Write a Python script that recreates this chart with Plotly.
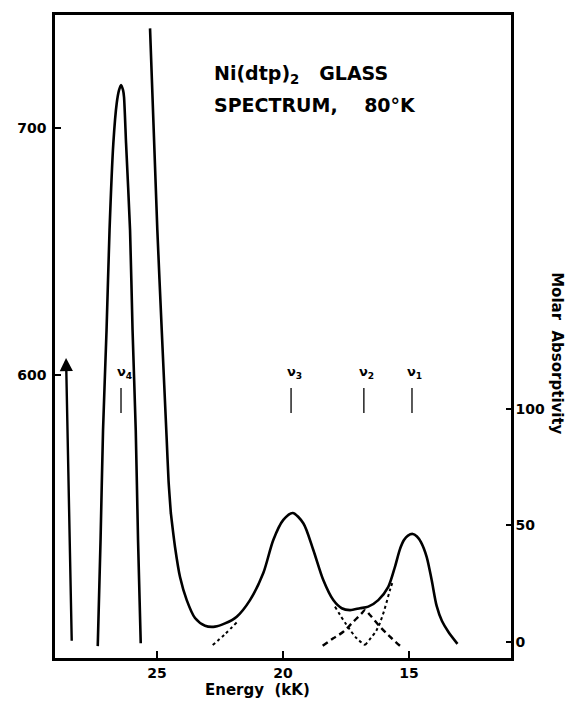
import plotly.graph_objects as go

# ---------------- data (Energy in kK) ----------------
x_range = [29.05, 10.95]
x_ticks = [25, 20, 15]
left_ticks = [600, 700]
right_ticks = [0, 50, 100]

# off-scale band (nu4), read on left axis
band4_kk = [27.353, 27.242, 27.143, 27.004, 26.885, 26.734, 26.599, 26.508, 26.429,
            26.349, 26.310, 26.230, 26.071, 25.972, 25.845, 25.754, 25.647]
band4_val = [490.4, 533.3, 577.8, 618.2, 658.6, 693.8, 710.0, 715.2, 717.3,
             715.2, 712.4, 693.8, 658.6, 618.2, 577.8, 533.3, 491.6]

# steep charge-transfer edge, read on left axis
edge_kk = [25.278, 24.988, 24.813, 24.615, 24.544, 24.452]
edge_val = [740.2, 658.6, 618.2, 573.7, 557.5, 544.2]

# main spectrum, molar absorptivity (right axis)
spec_kk = [24.452, 24.286, 24.087, 23.821, 23.492, 23.095, 22.698,
           22.302, 21.837, 21.310, 20.782, 20.385, 19.988, 19.615, 19.194, 18.797,
           18.401, 18.004, 17.671, 17.341, 16.944, 16.615, 16.218, 15.821, 15.556,
           15.357, 15.198, 15.040, 14.853, 14.683, 14.524, 14.298, 14.099, 13.901,
           13.690, 13.433, 13.075]
spec_val = [55.3, 40.7, 27.8, 17.9, 10.2, 6.9, 6.5,
            7.9, 10.8, 17.9, 29.5, 43.7, 52.3, 55.3, 50.9, 39.4,
            26.5, 17.9, 14.4, 13.6, 14.4, 15.1, 17.9, 23.6, 32.2,
            39.8, 43.7, 45.6, 46.3, 45.2, 42.8, 36.5, 26.5, 15.4,
            8.9, 4.2, -0.9]

# resolved components
tail3a_kk = [22.790, 22.302, 21.813]
tail3a_val = [-1.4, 3.3, 8.6]
tail3b_kk = [17.937, 17.472, 17.075, 16.746]
tail3b_val = [15.1, 7.2, 1.5, -1.4]
tail1_kk = [16.746, 16.282, 16.020, 15.754, 15.623]
tail1_val = [-1.4, 5.1, 12.2, 22.2, 26.5]
band2_kk = [18.425, 18.004, 17.607, 17.210, 16.877, 16.746, 16.548, 16.151, 15.754, 15.357]
band2_val = [-1.7, 1.5, 4.3, 8.6, 12.2, 13.6, 11.5, 6.5, 2.2, -1.7]

# band markers
nu_names = ["ν<sub>4</sub>", "ν<sub>3</sub>", "ν<sub>2</sub>", "ν<sub>1</sub>"]
nu_kk = [26.43, 19.68, 16.79, 14.88]
nu_tick_lo, nu_tick_hi = 98.2, 108.9
nu_label_y = 115.5

# arrow (left axis)
arrow_tail = (28.385, 492.0)
arrow_head = (28.611, 606.9)

FONT = "DejaVu Sans"
BLK = "black"

fig = go.Figure()
fig.add_trace(go.Scatter(x=band4_kk, y=band4_val, mode="lines", yaxis="y",
                         line=dict(color=BLK, width=2.6, shape="spline", smoothing=0.6),
                         showlegend=False, hoverinfo="skip"))
fig.add_trace(go.Scatter(x=edge_kk, y=edge_val, mode="lines", yaxis="y",
                         line=dict(color=BLK, width=2.6, shape="spline", smoothing=0.5),
                         showlegend=False, hoverinfo="skip"))
fig.add_trace(go.Scatter(x=spec_kk, y=spec_val, mode="lines", yaxis="y2",
                         line=dict(color=BLK, width=2.6, shape="spline", smoothing=0.8),
                         showlegend=False, hoverinfo="skip"))
for xs, ys in [(tail3a_kk, tail3a_val), (tail3b_kk, tail3b_val), (tail1_kk, tail1_val)]:
    fig.add_trace(go.Scatter(x=xs, y=ys, mode="lines", yaxis="y2",
                             line=dict(color=BLK, width=2, dash="dot", shape="spline"),
                             showlegend=False, hoverinfo="skip"))
fig.add_trace(go.Scatter(x=band2_kk, y=band2_val, mode="lines", yaxis="y2",
                         line=dict(color=BLK, width=2.4, dash="6px,4px", shape="spline"),
                         showlegend=False, hoverinfo="skip"))

tx, ty = [], []
for k in nu_kk:
    tx += [k, k, None]
    ty += [nu_tick_lo, nu_tick_hi, None]
fig.add_trace(go.Scatter(x=tx, y=ty, mode="lines", yaxis="y2",
                         line=dict(color=BLK, width=1.3),
                         showlegend=False, hoverinfo="skip"))

ann = []
for name, k in zip(nu_names, nu_kk):
    ann.append(dict(x=k, y=nu_label_y, xref="x", yref="y2", text=name, showarrow=False,
                    xshift=3, font=dict(family=FONT, size=13, color=BLK, weight="bold")))

ann.append(dict(x=arrow_head[0], y=arrow_head[1], xref="x", yref="y",
                ax=arrow_tail[0], ay=arrow_tail[1], axref="x", ayref="y",
                showarrow=True, arrowhead=2, arrowsize=1.1, arrowwidth=2.4,
                arrowcolor=BLK, text=""))

# plot area: x 55..511 px, y 15..658 px
ann.append(dict(x=0.344, y=0.9067, xref="paper", yref="paper", xanchor="left",
                yanchor="middle", showarrow=False, text="Ni(dtp)<sub>2</sub>   GLASS",
                font=dict(family=FONT, size=19, color=BLK, weight="bold")))
ann.append(dict(x=0.344, y=0.860, xref="paper", yref="paper", xanchor="left",
                yanchor="middle", showarrow=False, text="SPECTRUM,    80°K",
                font=dict(family=FONT, size=19, color=BLK, weight="bold")))
ann.append(dict(x=0.445, y=-0.0498, xref="paper", yref="paper", xanchor="center",
                yanchor="middle", showarrow=False, text="Energy  (kK)",
                font=dict(family=FONT, size=15, color=BLK, weight="bold")))
ann.append(dict(x=1.101, y=0.474, xref="paper", yref="paper", xanchor="center",
                yanchor="middle", showarrow=False, text="Molar  Absorptivity",
                textangle=90, font=dict(family=FONT, size=15, color=BLK, weight="bold")))

tickfont = dict(family=FONT, size=14, color=BLK, weight="bold")
fig.update_layout(
    width=567, height=704,
    margin=dict(l=55, r=56, t=15, b=46),
    paper_bgcolor="white", plot_bgcolor="white",
    showlegend=False,
    annotations=ann,
    xaxis=dict(range=x_range, tickvals=x_ticks, ticks="inside", ticklen=7, tickwidth=2,
               tickcolor=BLK, showline=True, linewidth=2.5, linecolor=BLK, mirror=True,
               showgrid=False, zeroline=False, tickfont=tickfont),
    yaxis=dict(range=[485.6, 745.6], tickvals=left_ticks, ticks="inside", ticklen=6,
               tickwidth=2, tickcolor=BLK, showline=True, linewidth=2.5, linecolor=BLK,
               showgrid=False, zeroline=False, tickfont=tickfont, ticklabelstandoff=3),
    yaxis2=dict(range=[-6.95, 269], tickvals=right_ticks, ticks="inside", ticklen=5,
                tickwidth=2, tickcolor=BLK, showline=True, linewidth=2.5, linecolor=BLK,
                overlaying="y", side="right", showgrid=False, zeroline=False,
                tickfont=tickfont, ticklabelstandoff=-1),
)

fig.write_html("out.html", config={"displayModeBar": False},
               post_script="document.body.style.margin='0px';")
